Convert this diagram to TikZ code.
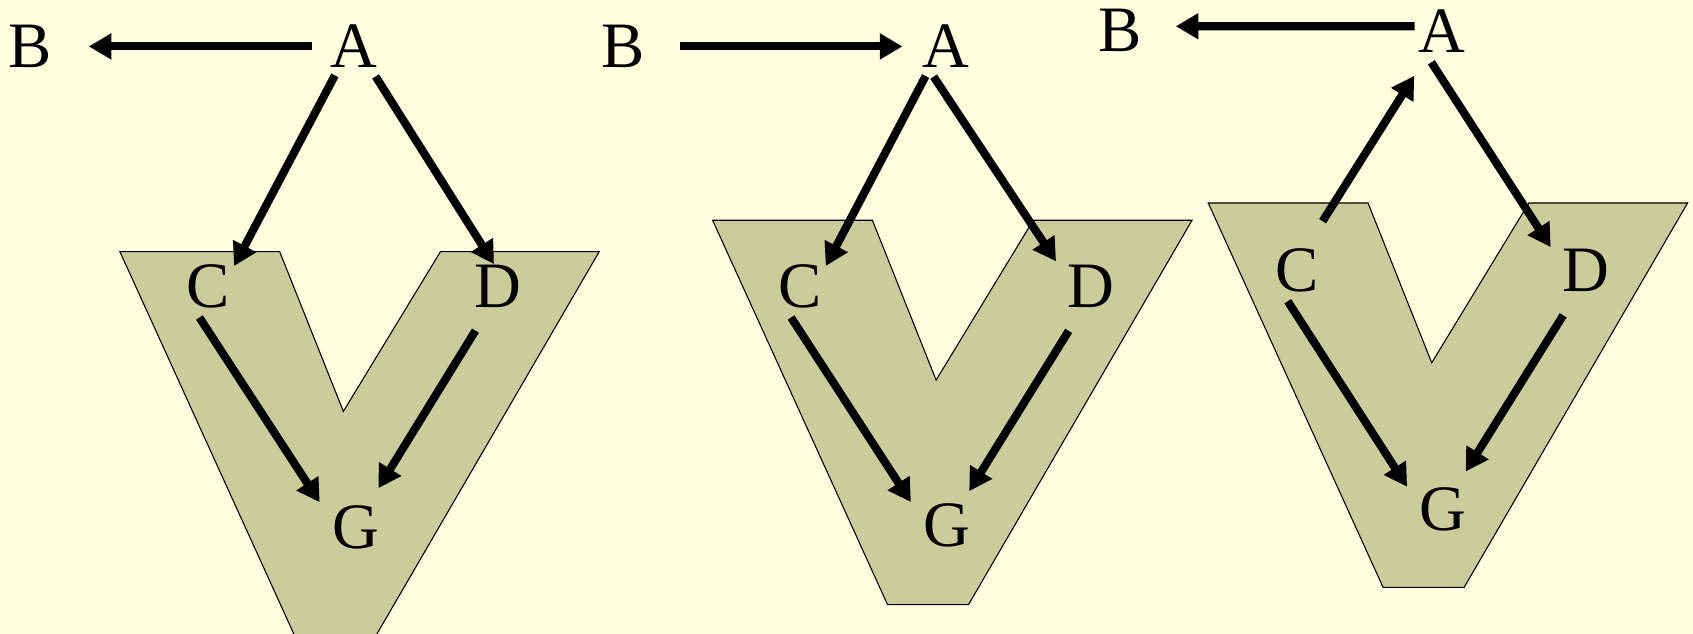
\documentclass[tikz,border=0pt]{standalone}
\usepackage{fontspec}
\setmainfont{Liberation Serif}
\usetikzlibrary{arrows.meta}
\definecolor{bgyellow}{HTML}{FFFFE0}
\definecolor{vkhaki}{HTML}{CBCC9B}

\begin{document}
\begin{tikzpicture}[x=1pt,y=-1pt,
  letter/.style={circle,minimum size=60pt,inner sep=0pt,font=\fontsize{60}{72}\selectfont},
  arr/.style={line width=7.5pt,-{Triangle[length=21pt,width=23pt]}},
  vshape/.style={fill=vkhaki,draw=black,line width=1pt}]
  \fill[bgyellow] (0,0) rectangle (1568,587);
  \useasboundingbox (0,0) rectangle (1568,587);
  \foreach \x/\y in {111/233,660/204,1119/188}{
    \draw[vshape] (\x,\y) -- ++(148,0) -- ++(59,148) -- ++(90,-148) -- ++(147,0)
      -- ++(-207,356) -- ++(-75,0) -- cycle;
  }

  \node[letter] (B1) at (28,43) {B};
  \node[letter] (A1) at (328,43) {A};
  \node[letter] (C1) at (193,265) {C};
  \node[letter] (D1) at (461,265) {D};
  \node[letter] (G1) at (330,488) {G};
  \draw[arr,shorten <=9pt,shorten >=24pt] (A1.180) -- (B1.0);
  \draw[arr,shorten <=2pt] (A1.236) -- (C1.38);
  \draw[arr,shorten <=4pt,shorten >=-10pt] (A1.306) -- (D1.107);
  \draw[arr,shorten >=12pt] (C1.254) -- (G1.155);
  \draw[arr,shorten <=16pt,shorten >=11pt] (D1.246) -- (G1.61);

  \node[letter] (B2) at (577,43) {B};
  \node[letter] (A2) at (876,43) {A};
  \node[letter] (C2) at (741,265) {C};
  \node[letter] (D2) at (1010,265) {D};
  \node[letter] (G2) at (877,487) {G};
  \draw[arr,shorten <=23pt,shorten >=10pt] (B2.0) -- (A2.180);
  \draw[arr,shorten <=3pt] (A2.235) -- (C2.38);
  \draw[arr,shorten >=10pt] (A2.248) -- (D2.151);
  \draw[arr,shorten >=11pt] (C2.254) -- (G2.155);
  \draw[arr,shorten <=16pt,shorten >=8pt] (D2.247) -- (G2.57);

  \node[letter] (B3) at (1037,28) {B};
  \node[letter] (A3) at (1335,29) {A};
  \node[letter] (C3) at (1201,250) {C};
  \node[letter] (D3) at (1469,250) {D};
  \node[letter] (G3) at (1336,472) {G};
  \draw[arr,shorten <=-5pt,shorten >=22pt] (A3.171) -- (B3.7);
  \draw[arr,shorten <=21pt,shorten >=18pt] (C3.65) -- (A3.239);
  \draw[arr,shorten >=10pt] (A3.252) -- (D3.155);
  \draw[arr,shorten >=10pt] (C3.254) -- (G3.155);
  \draw[arr,shorten <=17pt,shorten >=11pt] (D3.246) -- (G3.59);
\end{tikzpicture}
\end{document}
